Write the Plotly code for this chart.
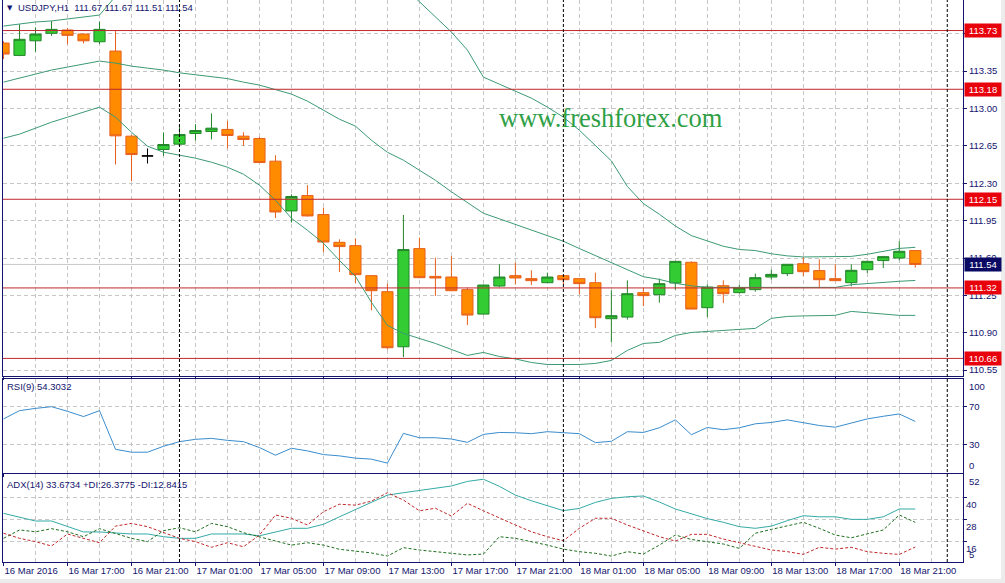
import pandas as pd
import plotly.graph_objects as go
from plotly.subplots import make_subplots

# USDJPY H1, 16 Mar 13:00 .. 18 Mar 22:00 (58 bars)
times = pd.date_range("2016-03-16 13:00", periods=58, freq="h")

open_ = [113.613, 113.497, 113.634, 113.704, 113.735, 113.697, 113.625, 113.538, 112.741, 112.556,
         112.616, 112.666, 112.766, 112.785, 112.804, 112.741, 112.719, 112.507, 112.041, 112.185,
         112.007, 111.747, 111.716, 111.435, 111.285, 110.769, 111.688, 111.428, 111.422, 111.304,
         111.075, 111.338, 111.435, 111.407, 111.369, 111.435, 111.407, 111.369, 111.032, 111.047,
         111.276, 111.257, 111.366, 111.560, 111.135, 111.341, 111.276, 111.304, 111.422, 111.454,
         111.547, 111.482, 111.407, 111.369, 111.491, 111.576, 111.600, 111.670]
high = [113.630, 113.788, 113.760, 113.819, 113.754, 113.700, 113.813, 113.725, 112.753, 112.626,
        112.776, 112.841, 112.853, 112.954, 112.884, 112.778, 112.735, 112.563, 112.197, 112.282,
        112.072, 111.775, 111.782, 111.440, 111.360, 112.003, 111.791, 111.604, 111.619, 111.323,
        111.350, 111.541, 111.557, 111.485, 111.463, 111.440, 111.410, 111.463, 111.297, 111.391,
        111.319, 111.407, 111.570, 111.569, 111.354, 111.391, 111.351, 111.454, 111.491, 111.540,
        111.609, 111.588, 111.541, 111.541, 111.570, 111.620, 111.757, 111.670]
low = [113.463, 113.490, 113.531, 113.681, 113.601, 113.610, 113.603, 112.476, 112.319, 112.485,
       112.556, 112.660, 112.701, 112.710, 112.626, 112.650, 112.490, 111.975, 111.932, 111.990,
       111.656, 111.469, 111.366, 111.110, 110.744, 110.672, 111.410, 111.244, 111.290, 110.972,
       111.070, 111.328, 111.351, 111.347, 111.366, 111.356, 111.260, 110.944, 110.810, 111.023,
       111.150, 111.182, 111.304, 111.120, 111.047, 111.178, 111.266, 111.285, 111.397, 111.431,
       111.431, 111.328, 111.385, 111.335, 111.459, 111.506, 111.578, 111.510]
close = [113.510, 113.648, 113.697, 113.741, 113.685, 113.634, 113.741, 112.744, 112.569, 112.556,
         112.663, 112.757, 112.794, 112.816, 112.747, 112.710, 112.494, 112.031, 112.176, 111.994,
         111.750, 111.707, 111.444, 111.294, 110.760, 111.679, 111.416, 111.413, 111.294, 111.066,
         111.347, 111.422, 111.413, 111.388, 111.422, 111.397, 111.360, 111.041, 111.060, 111.266,
         111.248, 111.360, 111.569, 111.122, 111.328, 111.266, 111.319, 111.416, 111.447, 111.541,
         111.472, 111.397, 111.388, 111.485, 111.569, 111.613, 111.663, 111.540]

# Bollinger bands (upper band leaves the window on the left part)
bb_upper = [113.772, 113.790, 113.810, 113.820, 113.840, 113.860, 113.875, 114.050, 114.120, 114.160,
            114.170, 114.150, 114.140, 114.140, 114.130, 114.120, 114.120, 114.180, 114.280, 114.270,
            114.240, 114.230, 114.250, 114.220, 114.210, 114.140, 114.000, 113.860, 113.716, 113.547,
            113.294, 113.228, 113.163, 113.097, 113.013, 112.919, 112.797, 112.657, 112.510, 112.270,
            112.110, 112.010, 111.900, 111.810, 111.760, 111.710, 111.680, 111.670, 111.640, 111.620,
            111.610, 111.610, 111.610, 111.615, 111.635, 111.665, 111.690, 111.700]
bb_mid = [113.247, 113.285, 113.322, 113.360, 113.388, 113.416, 113.444, 113.425, 113.397, 113.378,
          113.360, 113.334, 113.318, 113.303, 113.280, 113.247, 113.219, 113.177, 113.135, 113.069,
          112.985, 112.900, 112.835, 112.703, 112.590, 112.516, 112.422, 112.328, 112.220, 112.120,
          112.019, 111.967, 111.914, 111.860, 111.810, 111.757, 111.689, 111.622, 111.554, 111.487,
          111.425, 111.400, 111.363, 111.340, 111.325, 111.325, 111.325, 111.323, 111.323, 111.322,
          111.322, 111.323, 111.325, 111.350, 111.363, 111.372, 111.382, 111.390]
bb_lower = [112.722, 112.760, 112.816, 112.872, 112.919, 112.966, 113.013, 112.919, 112.778, 112.647,
            112.591, 112.563, 112.535, 112.497, 112.450, 112.385, 112.282, 112.141, 111.972, 111.860,
            111.738, 111.578, 111.428, 111.185, 110.969, 110.894, 110.847, 110.800, 110.744, 110.688,
            110.716, 110.678, 110.655, 110.622, 110.603, 110.603, 110.603, 110.613, 110.641, 110.735,
            110.800, 110.810, 110.875, 110.903, 110.913, 110.922, 110.932, 110.941, 111.035, 111.053,
            111.058, 111.058, 111.063, 111.100, 111.086, 111.072, 111.063, 111.063]

rsi = [57.0, 65.8, 68.2, 70.0, 65.1, 59.5, 65.8, 24.7, 21.6, 21.6,
       27.9, 32.8, 35.3, 36.3, 34.2, 32.8, 26.5, 18.4, 25.8, 23.0,
       19.1, 17.7, 15.3, 14.2, 10.0, 41.6, 37.0, 37.0, 35.6, 32.1,
       40.5, 42.6, 42.3, 41.3, 43.4, 42.6, 41.3, 31.8, 33.2, 43.4,
       42.6, 47.6, 56.0, 40.2, 47.9, 45.5, 47.6, 51.8, 53.2, 56.0,
       53.2, 50.0, 48.2, 52.4, 57.0, 59.8, 62.3, 54.3032]

adx = [31.3, 29.4, 27.1, 27.1, 24.0, 21.1, 21.1, 20.4, 20.0, 20.0,
       18.5, 17.6, 17.6, 20.0, 20.0, 20.0, 19.0, 21.2, 23.1, 23.1,
       25.3, 29.4, 33.5, 37.3, 41.3, 42.6, 43.7, 45.0, 46.3, 48.8,
       50.0, 46.1, 41.3, 38.2, 35.6, 32.8, 34.0, 37.3, 39.5, 40.4,
       40.8, 37.5, 33.7, 30.9, 28.4, 26.4, 24.0, 23.1, 24.3, 27.3,
       30.0, 29.4, 29.4, 28.0, 28.0, 29.4, 33.7, 33.6734]
plus_di = [17.6, 22.2, 21.2, 22.9, 21.2, 18.5, 22.9, 20.4, 17.6, 15.8,
           21.8, 23.4, 21.2, 25.8, 24.0, 20.7, 18.5, 16.1, 13.9, 15.2,
           13.9, 11.6, 10.8, 9.6, 7.9, 12.5, 11.2, 10.3, 9.4, 8.5,
           9.0, 18.5, 17.6, 15.8, 13.9, 11.7, 10.3, 9.4, 7.9, 10.3,
           9.0, 13.9, 19.4, 17.0, 15.8, 14.5, 12.1, 20.4, 22.5, 24.3,
           26.4, 23.1, 19.4, 17.9, 20.0, 22.2, 30.4, 26.3775]
minus_di = [20.4, 17.6, 15.8, 13.4, 20.0, 17.6, 15.2, 24.3, 25.8, 24.0,
            20.7, 17.6, 15.8, 12.7, 15.2, 13.0, 19.4, 30.4, 28.6, 24.9,
            32.2, 36.3, 35.8, 38.0, 42.6, 38.6, 32.7, 34.1, 29.8, 36.8,
            32.7, 28.6, 24.9, 21.2, 18.5, 16.3, 23.1, 28.6, 28.6, 24.9,
            21.8, 18.5, 16.1, 19.8, 19.8, 17.2, 15.2, 13.4, 11.2, 10.3,
            8.8, 12.7, 11.7, 12.7, 10.3, 9.4, 8.8, 12.8415]

levels = [113.73, 113.18, 112.15, 111.32, 110.66]
last_price = 111.54
price_ticks = [110.55, 110.90, 111.25, 111.60, 111.95, 112.30, 112.65, 113.00, 113.35, 113.70]
rsi_ticks = [30, 70]
adx_ticks = [16, 28, 40]
x_tickvals = pd.date_range("2016-03-16 13:00", periods=15, freq="4h")
x_ticktext = ["16 Mar 2016", "16 Mar 17:00", "16 Mar 21:00", "17 Mar 01:00", "17 Mar 05:00",
              "17 Mar 09:00", "17 Mar 13:00", "17 Mar 17:00", "17 Mar 21:00", "18 Mar 01:00",
              "18 Mar 05:00", "18 Mar 09:00", "18 Mar 13:00", "18 Mar 17:00", "18 Mar 21:00"]
day_breaks = ["2016-03-17 00:00", "2016-03-18 00:00", "2016-03-19 00:00"]

NAVY = "#14146e"
GRID = "#c6c6c6"
FONT = "Liberation Sans"
FS = 9.5
W, H = 1005, 583
L, R, T, B = 3, 42, 0, 21
PW, PH = W - L - R, H - T - B


def px(x):
    return (x - L) / PW


def py(y):
    return (PH - (y - T)) / PH


fig = make_subplots(rows=3, cols=1, shared_xaxes=True, vertical_spacing=0.01)

# candles; open == close is drawn separately in black
doji = [o == c for o, c in zip(open_, close)]
pick = lambda vals, keep: [v if k else None for v, k in zip(vals, keep)]
normal = [not d for d in doji]
fig.add_trace(go.Candlestick(
    x=times, open=pick(open_, normal), high=pick(high, normal), low=pick(low, normal),
    close=pick(close, normal),
    increasing=dict(fillcolor="#33cc33", line=dict(color="#23862a", width=1)),
    decreasing=dict(fillcolor="#ff8c00", line=dict(color="#e8601c", width=1)),
    showlegend=False, hoverinfo="skip"), row=1, col=1)
fig.add_trace(go.Candlestick(
    x=times, open=pick(open_, doji), high=pick(high, doji), low=pick(low, doji),
    close=pick(close, doji),
    increasing=dict(fillcolor="black", line=dict(color="black", width=1)),
    decreasing=dict(fillcolor="black", line=dict(color="black", width=1)),
    showlegend=False, hoverinfo="skip"), row=1, col=1)

for band in (bb_upper, bb_mid, bb_lower):
    fig.add_trace(go.Scatter(x=times, y=band, mode="lines",
                             line=dict(color="#3c9a74", width=1),
                             showlegend=False, hoverinfo="skip"), row=1, col=1)

fig.add_trace(go.Scatter(x=times, y=rsi, mode="lines", line=dict(color="#3a8ccc", width=1),
                         showlegend=False, hoverinfo="skip"), row=2, col=1)

fig.add_trace(go.Scatter(x=times, y=adx, mode="lines", line=dict(color="#34aaa6", width=1),
                         showlegend=False, hoverinfo="skip"), row=3, col=1)
fig.add_trace(go.Scatter(x=times, y=plus_di, mode="lines",
                         line=dict(color="#1f6f1f", width=1, dash="3px,2px"),
                         showlegend=False, hoverinfo="skip"), row=3, col=1)
fig.add_trace(go.Scatter(x=times, y=minus_di, mode="lines",
                         line=dict(color="#c0282a", width=1, dash="3px,2px"),
                         showlegend=False, hoverinfo="skip"), row=3, col=1)

axis_common = dict(showline=True, linecolor=NAVY, linewidth=1, mirror=True,
                   showgrid=True, gridcolor=GRID, griddash="4px,3px", gridwidth=1,
                   zeroline=False, automargin=False)

fig.update_xaxes(
    type="date", range=["2016-03-16 12:58", "2016-03-19 00:59"],
    tickvals=x_tickvals, ticktext=x_ticktext, ticks="outside", ticklen=3, tickcolor=NAVY,
    ticklabelposition="outside right", tickangle=0,
    minor=dict(dtick=2 * 3600 * 1000, tick0="2016-03-16 13:00", showgrid=True,
               gridcolor=GRID, griddash="4px,3px", ticks=""),
    rangeslider_visible=False, tickfont=dict(family=FONT, size=FS, color=NAVY),
    **axis_common)

fig.update_yaxes(side="right", ticks="outside", ticklen=3, tickcolor=NAVY,
                 tickfont=dict(family=FONT, size=FS, color=NAVY), **axis_common)

fig.update_layout(
    width=W, height=H, margin=dict(l=L, r=R, t=T, b=B),
    paper_bgcolor="white", plot_bgcolor="white",
    boxgap=0.3, boxgroupgap=0,
    yaxis=dict(domain=[py(375.5), py(0)], range=[110.50, 114.016],
               tickvals=price_ticks, tickformat=".2f"),
    yaxis2=dict(domain=[py(472.5), py(378.5)], range=[0, 100], tickvals=rsi_ticks),
    yaxis3=dict(domain=[py(561.7), py(474.3)], range=[4.8, 52.7], tickvals=adx_ticks,
                ticklabelposition="outside bottom"),
)

shapes = []
for lv in levels:
    shapes.append(dict(type="line", xref="x domain", x0=0, x1=1, yref="y", y0=lv, y1=lv,
                       line=dict(color="#c0282d", width=1)))
shapes.append(dict(type="line", xref="x domain", x0=0, x1=1, yref="y",
                   y0=last_price, y1=last_price, line=dict(color="#c8c8c8", width=1),
                   layer="below"))
for d in day_breaks:
    shapes.append(dict(type="line", xref="x", x0=d, x1=d, yref="paper", y0=0, y1=1,
                       line=dict(color="black", width=1, dash="3px,2px")))
# window frame on the right and bottom
shapes.append(dict(type="rect", xref="paper", yref="paper", x0=px(1001), x1=px(1006),
                   y0=py(-1), y1=py(584), fillcolor="#ececec", line=dict(width=0),
                   layer="below"))
shapes.append(dict(type="rect", xref="paper", yref="paper", x0=px(-1), x1=px(1006),
                   y0=py(579), y1=py(584), fillcolor="#ececec", line=dict(width=0),
                   layer="below"))
fig.update_layout(shapes=shapes)

ann = []
for lv in levels:
    ann.append(dict(x=1, xref="paper", xanchor="left", xshift=1, y=lv, yref="y",
                    yanchor="middle", text=f"{lv:.2f}", showarrow=False, bgcolor="#e8000b",
                    width=34, borderpad=1, font=dict(family=FONT, size=FS, color="white")))
ann.append(dict(x=1, xref="paper", xanchor="left", xshift=1, y=last_price, yref="y",
                yanchor="middle", text=f"{last_price:.2f}", showarrow=False, bgcolor="#0a0a64",
                width=34, borderpad=1, font=dict(family=FONT, size=FS, color="white")))
# end labels of the indicator scales
ann.append(dict(x=1, xref="paper", xanchor="left", xshift=4, y=100, yref="y2", yanchor="top",
                text="100", showarrow=False, font=dict(family=FONT, size=FS, color=NAVY)))
ann.append(dict(x=1, xref="paper", xanchor="left", xshift=4, y=0, yref="y2", yanchor="bottom",
                text="0", showarrow=False, font=dict(family=FONT, size=FS, color=NAVY)))
ann.append(dict(x=1, xref="paper", xanchor="left", xshift=4, y=52.7, yref="y3", yanchor="top",
                text="52", showarrow=False, font=dict(family=FONT, size=FS, color=NAVY)))
ann.append(dict(x=1, xref="paper", xanchor="left", xshift=4, y=4.8, yref="y3", yanchor="bottom",
                text="5", showarrow=False, font=dict(family=FONT, size=FS, color=NAVY)))
# panel captions
ann.append(dict(x=px(9.5), xref="paper", xanchor="center", y=py(7.5), yref="paper",
                yanchor="middle", text="▼", showarrow=False,
                font=dict(family="DejaVu Sans", size=7, color=NAVY)))
ann.append(dict(x=px(16), xref="paper", xanchor="left", y=py(7.5), yref="paper",
                yanchor="middle", text="USDJPY,H1  111.67 111.67 111.51 111.54", showarrow=False,
                font=dict(family=FONT, size=FS, color=NAVY)))
ann.append(dict(x=px(5), xref="paper", xanchor="left", y=py(386.5), yref="paper",
                yanchor="middle", text="RSI(9) 54.3032", showarrow=False,
                font=dict(family=FONT, size=FS, color=NAVY)))
ann.append(dict(x=px(5), xref="paper", xanchor="left", y=py(484), yref="paper",
                yanchor="middle", text="ADX(14) 33.6734 +DI:26.3775 -DI:12.8415", showarrow=False,
                font=dict(family=FONT, size=FS, color=NAVY)))
ann.append(dict(x=px(611), xref="paper", xanchor="center", y=py(118), yref="paper",
                yanchor="middle", text="www.freshforex.com", showarrow=False,
                font=dict(family="Liberation Serif", size=26.5, color="#2fa046")))
fig.update_layout(annotations=ann)

# the page's default body margin would push the 1005x583 figure out of the window
fig.write_html("out.html", config={"displayModeBar": False},
               post_script="document.body.style.margin='0';")
